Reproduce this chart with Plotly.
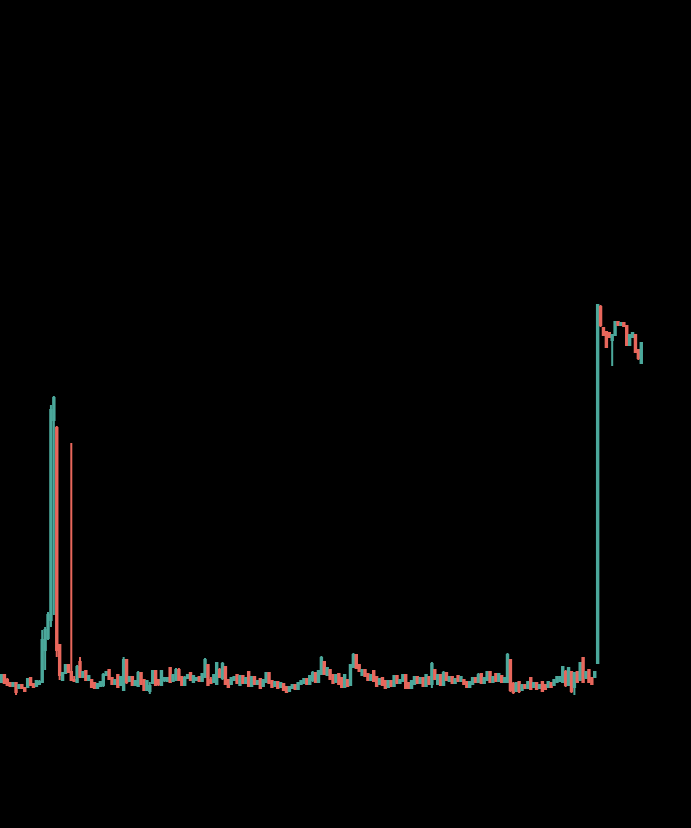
import plotly.graph_objects as go

# candle index (one per period)
open_ = [
    7.8, 8.5, 8.0, 7.7, 7.4, 7.7, 7.2, 7.5, 7.2, 7.3,
    8.2, 7.6, 7.4, 7.6, 7.8, 11.0, 12.2, 14.0, 34.0, 33.2,
    11.5, 8.0, 8.7, 9.5, 8.8, 8.0, 7.8, 9.8, 8.3, 8.9,
    8.0, 8.0, 7.7, 7.2, 7.4, 7.5, 8.5, 9.0, 8.2, 7.6,
    8.5, 7.5, 7.0, 10.0, 7.9, 8.3, 7.5, 7.4, 8.7, 8.0,
    7.0, 6.9, 7.7, 8.9, 8.0, 7.5, 8.0, 7.9, 9.2, 7.9,
    8.0, 9.0, 8.3, 7.5, 8.2, 8.7, 7.8, 8.0, 8.3, 7.9,
    8.3, 9.5, 8.0, 7.8, 7.6, 9.0, 8.2, 9.3, 8.0, 7.6,
    8.0, 8.5, 7.5, 8.4, 7.7, 8.8, 7.4, 8.3, 7.6, 8.1,
    7.4, 7.8, 8.7, 7.9, 7.4, 7.8, 7.3, 7.6, 7.3, 6.9,
    7.2, 7.5, 7.1, 7.6, 7.7, 8.1, 7.6, 8.0, 8.7, 7.8,
    8.6, 9.8, 8.5, 9.0, 8.5, 7.8, 8.6, 8.2, 7.3, 8.0,
    7.5, 9.3, 10.5, 9.5, 8.5, 9.0, 8.6, 8.0, 8.9, 8.3,
    7.6, 8.2, 7.9, 7.3, 7.9, 7.4, 8.4, 7.7, 7.9, 8.5,
    7.7, 7.2, 7.6, 8.3, 7.7, 8.2, 7.4, 8.3, 7.6, 9.0,
    7.6, 8.5, 7.5, 8.7, 7.9, 8.3, 7.7, 8.4, 7.9, 8.0,
    7.8, 7.3, 7.6, 8.2, 7.8, 8.6, 7.7, 8.0, 8.8, 7.8,
    8.6, 7.9, 8.4, 7.8, 7.8, 10.0, 7.6, 6.9, 7.8, 7.0,
    7.5, 7.2, 8.2, 7.3, 7.7, 7.2, 7.8, 7.5, 7.3, 7.7,
    7.5, 7.8, 7.9, 7.8, 8.8, 7.5, 8.8, 7.3, 8.8, 8.0,
    10.2, 8.2, 9.0, 8.2, 8.3, 9.7, 45.3, 43.2, 42.8, 42.7,
    42.0, 42.5, 43.8, 43.5, 43.7, 43.4, 41.5, 42.3, 42.5, 41.0, 39.7,
]

high = [
    8.6, 8.6, 8.2, 7.8, 7.8, 7.8, 7.6, 7.6, 7.3, 8.2,
    8.3, 7.7, 8.0, 8.0, 13.0, 13.3, 14.8, 35.5, 36.4, 33.4,
    11.5, 8.8, 9.6, 9.6, 31.7, 8.4, 9.5, 10.3, 8.8, 9.0,
    8.5, 8.1, 7.8, 7.7, 7.9, 8.7, 8.9, 9.1, 8.3, 8.1,
    8.6, 8.4, 10.3, 10.1, 8.4, 8.4, 8.0, 8.9, 8.8, 8.1,
    8.0, 7.8, 9.0, 9.0, 8.1, 9.0, 8.3, 8.3, 9.3, 8.6,
    9.2, 9.2, 8.4, 8.4, 8.6, 8.8, 8.5, 8.3, 8.4, 8.7,
    10.2, 9.6, 8.3, 8.6, 9.8, 9.2, 9.8, 9.4, 8.1, 8.3,
    8.4, 8.6, 8.5, 8.5, 8.3, 8.9, 8.4, 8.4, 8.0, 8.2,
    8.1, 8.8, 8.8, 8.0, 7.9, 7.9, 7.8, 7.7, 7.4, 7.4,
    7.6, 7.6, 7.8, 8.0, 8.2, 8.2, 8.5, 8.9, 8.8, 9.0,
    10.4, 9.9, 9.3, 9.1, 8.6, 8.6, 8.7, 8.3, 8.6, 8.1,
    9.6, 10.7, 10.6, 9.6, 9.1, 9.1, 8.7, 8.6, 9.0, 8.4,
    8.2, 8.3, 8.0, 8.0, 8.0, 8.5, 8.5, 8.1, 8.6, 8.6,
    7.8, 8.0, 8.4, 8.4, 8.3, 8.3, 8.6, 8.4, 9.8, 9.1,
    8.6, 8.6, 8.9, 8.8, 8.4, 8.4, 8.2, 8.5, 8.4, 8.1,
    7.9, 7.9, 8.3, 8.3, 8.7, 8.7, 8.3, 8.9, 8.9, 8.4,
    8.7, 8.7, 8.5, 8.3, 10.7, 10.1, 7.8, 7.8, 7.9, 7.6,
    7.6, 7.9, 8.2, 7.7, 7.8, 7.6, 7.9, 7.6, 7.9, 7.8,
    8.0, 8.4, 8.4, 9.3, 9.0, 9.2, 8.9, 8.7, 8.9, 9.7,
    10.2, 8.8, 9.0, 8.3, 8.8, 45.5, 45.5, 43.3, 42.9, 42.8,
    42.6, 43.9, 43.9, 43.8, 43.8, 43.5, 42.6, 42.8, 42.6, 41.1, 41.8,
]

low = [
    7.7, 7.6, 7.4, 7.3, 7.3, 6.5, 7.1, 7.1, 6.8, 7.2,
    7.4, 7.2, 7.3, 7.5, 7.7, 9.0, 12.0, 13.3, 14.5, 10.3,
    8.0, 8.0, 8.6, 8.7, 7.9, 7.8, 7.7, 8.2, 8.2, 7.9,
    7.9, 7.2, 7.1, 7.1, 7.3, 7.3, 8.4, 8.0, 7.5, 7.5,
    7.2, 7.4, 7.0, 7.6, 7.8, 7.4, 7.4, 7.3, 7.5, 6.9,
    6.9, 6.6, 7.6, 7.4, 7.4, 7.4, 7.8, 7.8, 7.7, 7.8,
    7.9, 7.9, 7.4, 7.4, 8.1, 7.9, 7.7, 7.9, 7.8, 7.8,
    8.2, 7.4, 7.6, 7.7, 7.5, 8.2, 8.0, 7.5, 7.2, 7.5,
    7.9, 7.6, 7.4, 7.6, 7.6, 7.3, 7.3, 7.5, 7.5, 7.1,
    7.3, 7.7, 7.6, 7.2, 7.3, 7.1, 7.2, 6.9, 6.7, 6.8,
    7.1, 7.0, 7.0, 7.5, 7.6, 7.5, 7.5, 7.8, 7.7, 7.7,
    8.5, 8.5, 8.4, 8.0, 7.6, 7.7, 7.5, 7.2, 7.2, 7.3,
    7.4, 9.2, 9.1, 8.8, 8.4, 8.3, 7.9, 7.9, 7.8, 7.3,
    7.5, 7.4, 7.1, 7.2, 7.3, 7.3, 7.6, 7.6, 7.8, 7.1,
    7.1, 7.1, 7.5, 7.6, 7.6, 7.3, 7.3, 7.5, 7.2, 8.0,
    7.5, 7.4, 7.4, 7.9, 7.8, 7.6, 7.6, 7.8, 7.8, 7.5,
    7.2, 7.2, 7.5, 7.7, 7.7, 7.6, 7.6, 7.9, 7.7, 7.7,
    7.8, 7.8, 7.7, 7.7, 7.7, 6.8, 6.6, 6.8, 6.7, 6.9,
    7.1, 7.1, 7.0, 7.2, 7.0, 7.1, 6.8, 7.0, 7.2, 7.2,
    7.4, 7.7, 7.8, 7.7, 7.3, 7.4, 6.7, 6.5, 7.7, 7.9,
    7.7, 8.1, 7.7, 7.5, 8.2, 9.6, 43.3, 42.4, 41.2, 42.2,
    39.4, 42.4, 43.4, 43.4, 43.3, 41.4, 41.4, 42.2, 40.7, 40.0, 39.6,
]

close = [
    8.5, 7.7, 7.5, 7.4, 7.7, 6.8, 7.5, 7.2, 6.9, 8.1,
    7.5, 7.3, 7.9, 7.8, 12.0, 13.0, 14.5, 35.0, 36.2, 11.0,
    8.5, 8.7, 9.5, 8.8, 8.0, 7.9, 9.3, 8.3, 8.8, 8.0,
    8.4, 7.3, 7.2, 7.6, 7.8, 8.5, 8.8, 8.1, 7.6, 8.0,
    7.3, 8.3, 10.0, 7.8, 8.3, 7.5, 7.9, 8.7, 7.6, 7.0,
    7.9, 7.4, 8.9, 7.5, 7.6, 8.9, 8.2, 8.2, 7.8, 8.5,
    9.0, 8.0, 7.5, 8.2, 8.5, 8.0, 8.4, 8.2, 7.9, 8.6,
    10.0, 7.5, 7.7, 8.5, 9.7, 8.3, 9.6, 7.6, 7.3, 8.2,
    8.3, 7.7, 8.4, 7.7, 8.2, 7.4, 8.3, 7.6, 7.9, 7.2,
    8.0, 8.7, 7.7, 7.3, 7.8, 7.2, 7.7, 7.0, 6.8, 7.3,
    7.5, 7.1, 7.7, 7.9, 8.1, 7.6, 8.4, 8.7, 7.8, 8.9,
    10.2, 8.6, 9.2, 8.1, 7.7, 8.5, 7.6, 7.3, 8.5, 7.4,
    9.5, 10.5, 9.2, 8.9, 9.0, 8.4, 8.0, 8.5, 7.9, 7.4,
    8.1, 7.5, 7.2, 7.9, 7.4, 8.4, 7.7, 8.0, 8.5, 7.2,
    7.2, 7.9, 8.3, 7.7, 8.2, 7.4, 8.5, 7.6, 9.6, 8.1,
    8.5, 7.5, 8.7, 8.0, 8.3, 7.7, 8.1, 7.9, 8.3, 7.6,
    7.3, 7.8, 8.2, 7.8, 8.5, 7.7, 8.2, 8.8, 7.8, 8.3,
    7.9, 8.6, 7.8, 8.2, 10.5, 7.0, 6.8, 7.7, 6.9, 7.5,
    7.2, 7.8, 7.1, 7.7, 7.1, 7.5, 6.9, 7.1, 7.8, 7.3,
    8.0, 8.3, 8.3, 9.3, 7.5, 9.2, 6.9, 8.7, 7.8, 9.7,
    7.8, 8.8, 7.8, 7.6, 8.8, 45.5, 43.5, 42.5, 41.3, 42.3,
    42.5, 43.8, 43.5, 43.7, 43.4, 41.5, 42.5, 42.7, 40.8, 40.2, 41.7,
]

periods = list(range(len(close)))

UP = "#4ba89b"
DOWN = "#e8675c"

fig = go.Figure(
    go.Candlestick(
        x=periods,
        open=open_,
        high=high,
        low=low,
        close=close,
        increasing=dict(line=dict(color=UP), fillcolor=UP),
        decreasing=dict(line=dict(color=DOWN), fillcolor=DOWN),
        showlegend=False,
    )
)

fig.update_layout(
    width=691,
    height=828,
    autosize=False,
    margin=dict(l=0, r=0, t=0, b=0),
    paper_bgcolor="black",
    plot_bgcolor="black",
    showlegend=False,
    xaxis=dict(visible=False, range=[-0.516, 237.1], rangeslider=dict(visible=False)),
    yaxis=dict(visible=False, range=[-6.8, 76.0]),
)

fig.write_html(
    "out.html",
    config={"displayModeBar": False},
    post_script="document.body.style.margin='0';document.body.style.background='black';",
)
